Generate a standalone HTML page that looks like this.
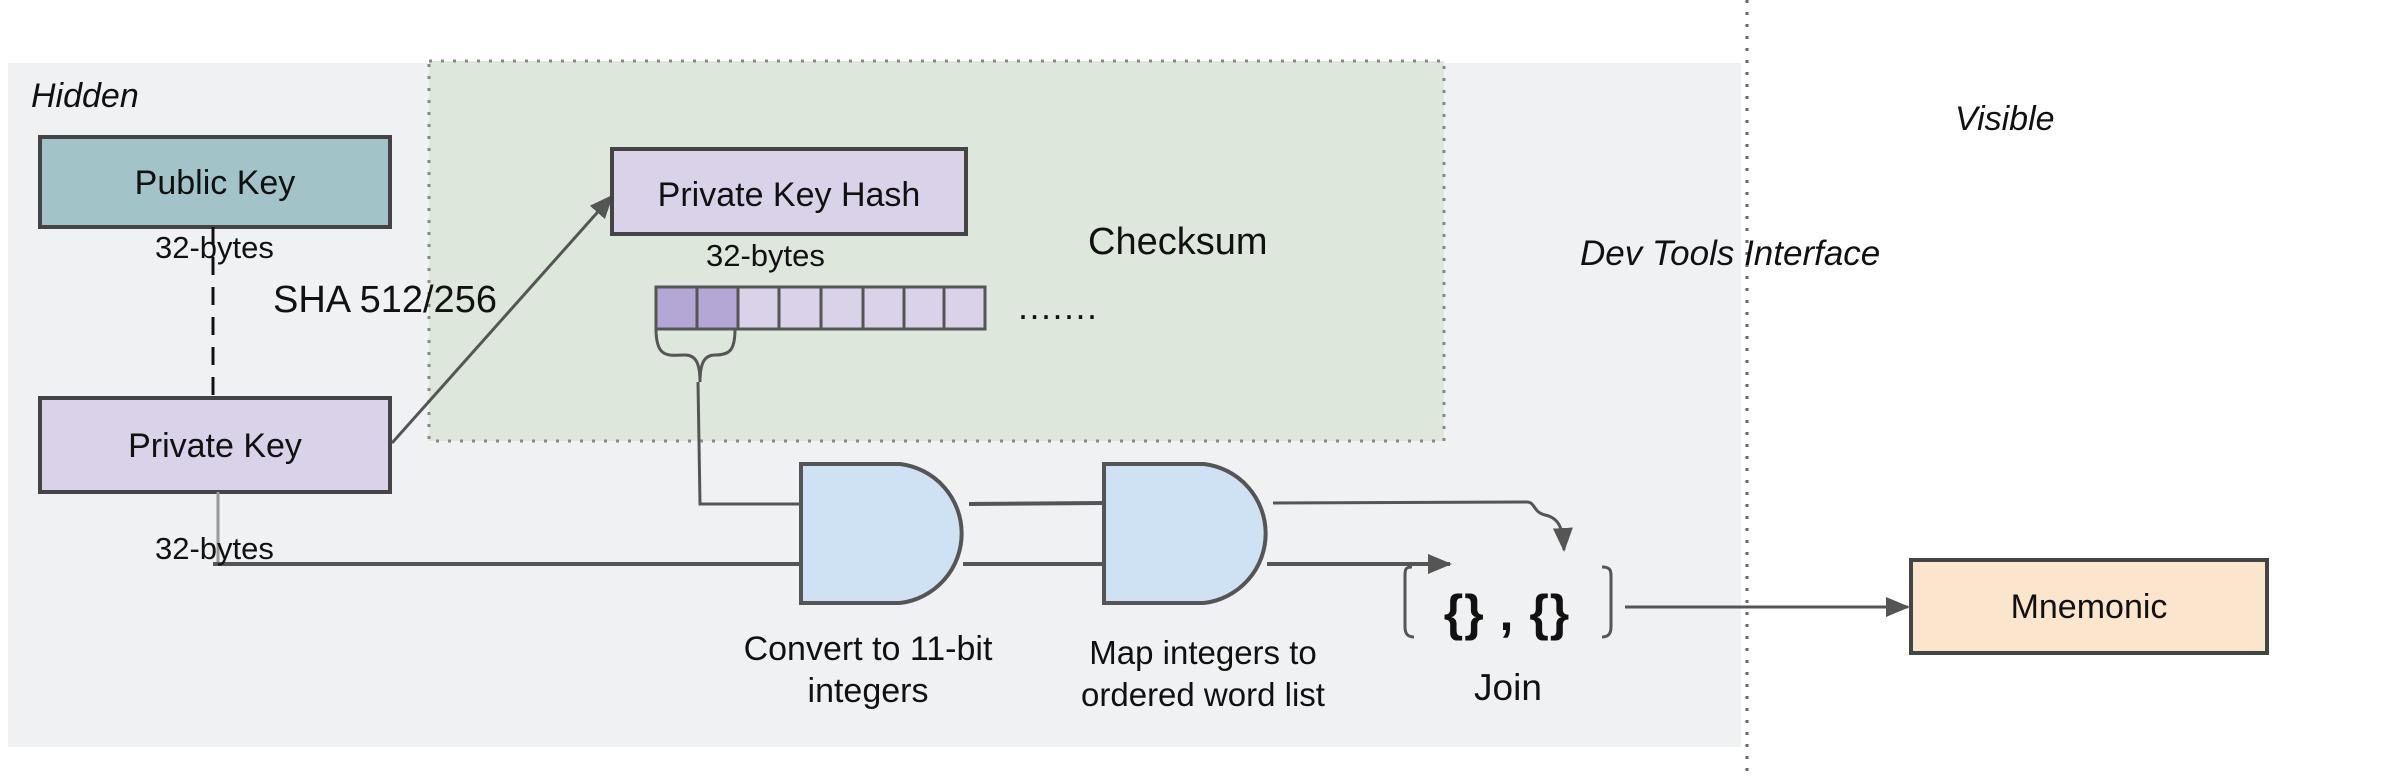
<!DOCTYPE html>
<html><head><style>
html,body{margin:0;padding:0;background:#fff;}
svg{display:block;font-family:"Liberation Sans",Arial,sans-serif;}
</style></head><body>
<svg width="2390" height="780" viewBox="0 0 2390 780" xmlns="http://www.w3.org/2000/svg">
<defs>
<marker id="ahb" markerWidth="24" markerHeight="24" refX="22" refY="12" orient="auto" markerUnits="userSpaceOnUse" viewBox="0 0 24 24">
<path d="M0,2 L24,12 L0,22 z" fill="#555"/>
</marker>
</defs>
<rect x="8" y="63" width="1733" height="684" fill="#f0f1f3"/>
<rect x="429" y="61" width="1015" height="380" fill="#dde7dc" stroke="#888" stroke-width="3" stroke-dasharray="3 9"/>
<line x1="1747" y1="0" x2="1747" y2="780" stroke="#666" stroke-width="3" stroke-dasharray="3 9"/>

<text x="31" y="107" font-size="34" font-style="italic" fill="#111">Hidden</text>
<text x="1955" y="130" font-size="34" font-style="italic" fill="#111">Visible</text>
<text x="1580" y="265" font-size="35" font-style="italic" fill="#111">Dev Tools Interface</text>

<rect x="40" y="137" width="350" height="90" fill="#a2c4c9" stroke="#444" stroke-width="4"/>
<text x="215" y="194" font-size="34" text-anchor="middle" fill="#111">Public Key</text>
<line x1="213" y1="227" x2="213" y2="398" stroke="#111" stroke-width="3" stroke-dasharray="18 12"/>
<text x="155" y="258" font-size="31" fill="#111">32-bytes</text>

<rect x="40" y="398" width="350" height="94" fill="#d9d2e9" stroke="#444" stroke-width="4"/>
<text x="215" y="457" font-size="34" text-anchor="middle" fill="#111">Private Key</text>
<polyline points="218,492 218,564" fill="none" stroke="#999" stroke-width="3"/>
<line x1="213" y1="564" x2="801" y2="564" stroke="#555" stroke-width="4"/>
<text x="155" y="559" font-size="31" fill="#111">32-bytes</text>

<text x="273" y="312" font-size="38" fill="#111">SHA 512/256</text>
<line x1="392" y1="443" x2="612" y2="196" stroke="#555" stroke-width="3" marker-end="url(#ahb)"/>

<rect x="612" y="149" width="354" height="85" fill="#d9d2e9" stroke="#444" stroke-width="4"/>
<text x="789" y="206" font-size="34" text-anchor="middle" fill="#111">Private Key Hash</text>
<text x="706" y="266" font-size="31" fill="#111">32-bytes</text>
<text x="1088" y="254" font-size="38" fill="#111">Checksum</text>

<g stroke="#555" stroke-width="3">
<rect x="656" y="287" width="41" height="42" fill="#b4a7d6"/>
<rect x="697" y="287" width="41" height="42" fill="#b4a7d6"/>
<rect x="738" y="287" width="41" height="42" fill="#d9d2e9"/>
<rect x="779" y="287" width="42" height="42" fill="#d9d2e9"/>
<rect x="821" y="287" width="42" height="42" fill="#d9d2e9"/>
<rect x="863" y="287" width="41" height="42" fill="#d9d2e9"/>
<rect x="904" y="287" width="40" height="42" fill="#d9d2e9"/>
<rect x="944" y="287" width="41" height="42" fill="#d9d2e9"/>
</g>
<text x="1018" y="319" font-size="36" letter-spacing="1.5" fill="#111">.......</text>

<path d="M656,329 C656,360 670,355 685,355 C695,355 700,362 700,382 C700,362 705,355 715,355 C730,355 735,350 735,329" fill="none" stroke="#555" stroke-width="3"/>
<polyline points="698,382 700,504 801,504" fill="none" stroke="#555" stroke-width="3"/>

<path d="M801,464 L900,464 A70,70 0 0 1 900,603 L801,603 Z" fill="#cfe2f3" stroke="#555" stroke-width="4"/>
<line x1="969" y1="504" x2="1104" y2="503" stroke="#555" stroke-width="4"/>
<line x1="963" y1="564" x2="1104" y2="564" stroke="#555" stroke-width="4"/>
<path d="M1104,464 L1204,464 A70,70 0 0 1 1204,603 L1104,603 Z" fill="#cfe2f3" stroke="#555" stroke-width="4"/>

<text x="868" y="660" font-size="34" text-anchor="middle" fill="#111">Convert to 11-bit</text>
<text x="868" y="702" font-size="34" text-anchor="middle" fill="#111">integers</text>
<text x="1203" y="664" font-size="33" text-anchor="middle" fill="#111">Map integers to</text>
<text x="1203" y="706" font-size="33" text-anchor="middle" fill="#111">ordered word list</text>

<path d="M1273,503 L1527,502 C1535,502 1533,512 1545,515 C1560,518 1563,530 1564,550" fill="none" stroke="#555" stroke-width="3" marker-end="url(#ahb)"/>
<line x1="1267" y1="564" x2="1450" y2="564" stroke="#555" stroke-width="4" marker-end="url(#ahb)"/>

<path d="M1412,567 C1405,567 1405,570 1405,576 L1405,627 C1405,634 1408,637 1414,637" fill="none" stroke="#555" stroke-width="3"/>
<path d="M1602,567 C1610,567 1611,570 1611,576 L1611,627 C1611,634 1608,637 1602,637" fill="none" stroke="#555" stroke-width="3"/>
<text x="1507" y="630" font-size="50" font-weight="bold" text-anchor="middle" letter-spacing="1" fill="#111">{} , {}</text>
<text x="1508" y="700" font-size="37" text-anchor="middle" fill="#111">Join</text>

<line x1="1625" y1="607" x2="1908" y2="607" stroke="#555" stroke-width="3" marker-end="url(#ahb)"/>
<rect x="1911" y="560" width="356" height="93" fill="#fce5cd" stroke="#444" stroke-width="4"/>
<text x="2089" y="618" font-size="34" text-anchor="middle" fill="#111">Mnemonic</text>
</svg>
</body></html>
